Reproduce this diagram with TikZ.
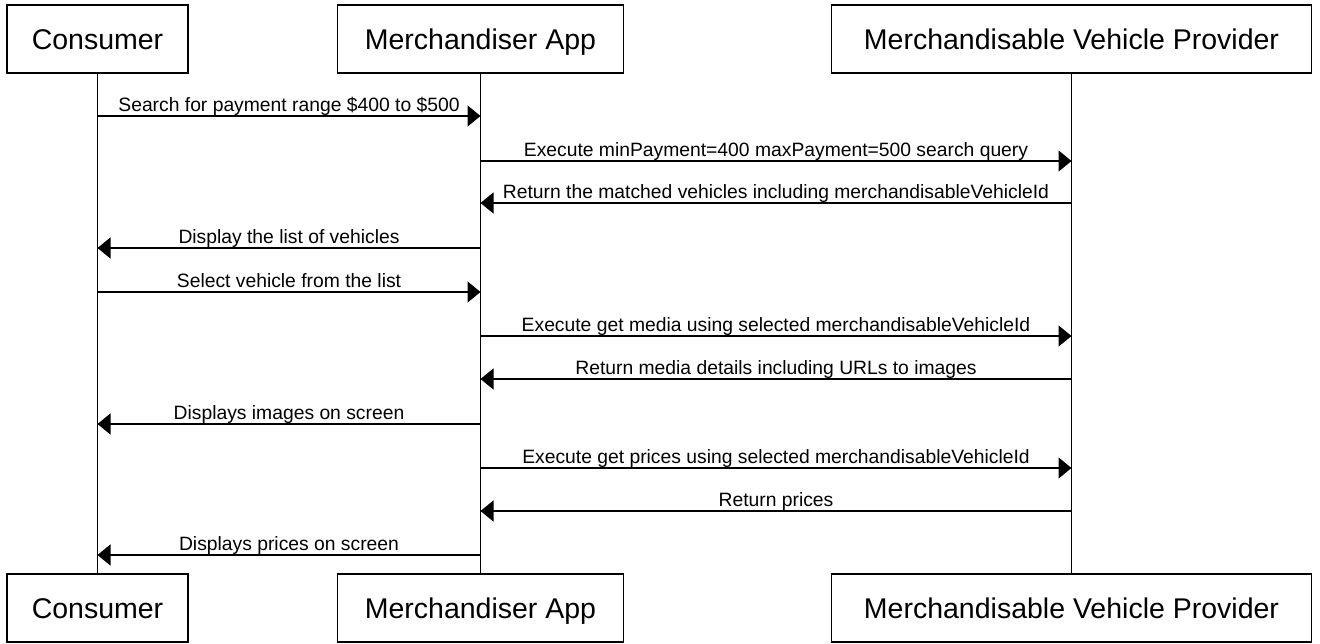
\documentclass[tikz,border=0pt]{standalone}
\usepackage{fontspec}
\setmainfont{Liberation Sans}
\usetikzlibrary{arrows.meta}
\begin{document}
\begin{tikzpicture}[x=1pt,y=-1pt,
  actor/.style={draw,line width=1.1pt,minimum height=68pt,inner sep=0pt,text height=20.6pt,text depth=0pt,font=\fontsize{28.5}{30}\selectfont,fill=white},
  life/.style={line width=1.1pt},
  msg/.style={line width=1.1pt,-{Triangle[length=13pt,width=21pt]}},
  lbl/.style={font=\fontsize{19.3}{21}\selectfont,anchor=base,inner sep=0pt,yshift=5pt}]
\useasboundingbox (0,0) rectangle (1320,643);
% top actors
\node[actor,minimum width=181pt] (cT) at (97.5,39) {Consumer};
\node[actor,minimum width=286pt] (mT) at (480.5,39) {Merchandiser App};
\node[actor,minimum width=480pt] (pT) at (1071.5,39) {Merchandisable Vehicle Provider};
% bottom actors
\node[actor,minimum width=181pt] (cB) at (97.5,608) {Consumer};
\node[actor,minimum width=286pt] (mB) at (480.5,608) {Merchandiser App};
\node[actor,minimum width=480pt] (pB) at (1071.5,608) {Merchandisable Vehicle Provider};
% lifelines
\draw[life] (cT.south) -- (cB.north);
\draw[life] (mT.south) -- (mB.north);
\draw[life] (pT.south) -- (pB.north);
% message anchor points
\foreach \n/\y in {1/116,2/161,3/203,4/248,5/292,6/336,7/379,8/424,9/468,10/511,11/555}{
  \coordinate (C\n) at (cT.south |- 0,\y);
  \coordinate (M\n) at (mT.south |- 0,\y);
  \coordinate (P\n) at (pT.south |- 0,\y);
}
% messages
\draw[msg] (C1) -- node[lbl]{Search for payment range \$400 to \$500} (M1);
\draw[msg] (M2) -- node[lbl]{Execute minPayment=400 maxPayment=500 search query} (P2);
\draw[msg] (P3) -- node[lbl]{Return the matched vehicles including merchandisableVehicleId} (M3);
\draw[msg] (M4) -- node[lbl]{Display the list of vehicles} (C4);
\draw[msg] (C5) -- node[lbl]{Select vehicle from the list} (M5);
\draw[msg] (M6) -- node[lbl]{Execute get media using selected merchandisableVehicleId} (P6);
\draw[msg] (P7) -- node[lbl]{Return media details including URLs to images} (M7);
\draw[msg] (M8) -- node[lbl]{Displays images on screen} (C8);
\draw[msg] (M9) -- node[lbl]{Execute get prices using selected merchandisableVehicleId} (P9);
\draw[msg] (P10) -- node[lbl]{Return prices} (M10);
\draw[msg] (M11) -- node[lbl]{Displays prices on screen} (C11);
\end{tikzpicture}
\end{document}
